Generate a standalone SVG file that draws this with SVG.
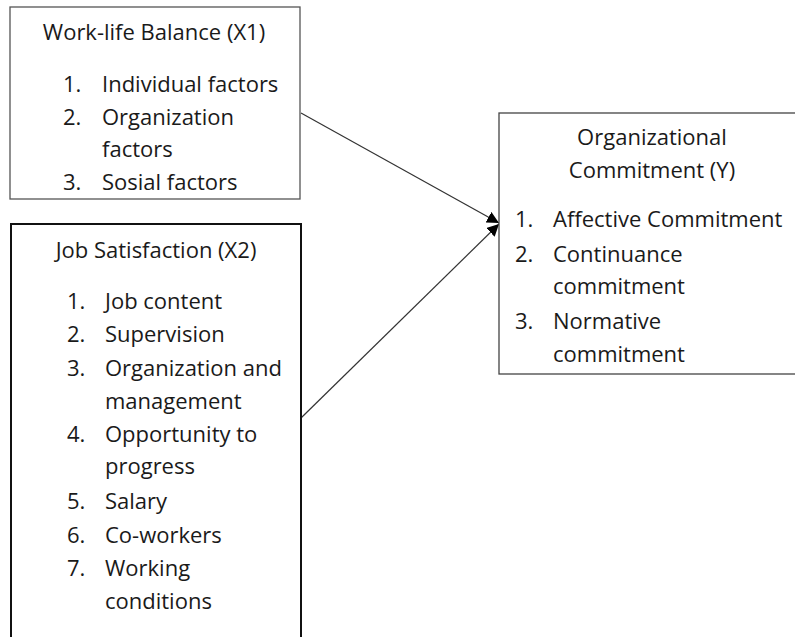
<svg xmlns="http://www.w3.org/2000/svg" width="795" height="637" viewBox="0 0 795 637">
<style>
text{font-family:"Open Sans","Noto Sans","Liberation Sans",sans-serif;font-size:22px;fill:#1a1a1a}
.c{text-anchor:middle}
.box1{fill:#fff;stroke:#555;stroke-width:1.3}
.box2{fill:#fff;stroke:#111;stroke-width:2}
.box3{fill:#fff;stroke:#444;stroke-width:1.3}
.edge{stroke:#333;stroke-width:1.2;fill:none;marker-end:url(#ah)}
</style>
<defs>
<marker id="ah" viewBox="0 0 10 10" refX="10" refY="5" markerWidth="12" markerHeight="12" markerUnits="userSpaceOnUse" orient="auto">
<path d="M0,0 L10,5 L0,10 z" fill="#000"/>
</marker>
</defs>
<rect width="795" height="637" fill="#fff"/>
<g id="connectors">
<line class="edge" x1="301" y1="113" x2="499" y2="223"/>
<line class="edge" x1="301" y1="418" x2="499" y2="224"/>
</g>
<g id="x1">
<rect class="box1" x="10" y="7" width="290" height="192"/>
<text class="c" x="154" y="40">Work-life Balance (X1)</text>
<text x="63" y="92">1.</text><text x="102" y="92">Individual factors</text>
<text x="63" y="125">2.</text><text x="102" y="125">Organization</text>
<text x="102" y="157">factors</text>
<text x="63" y="190">3.</text><text x="102" y="190">Sosial factors</text>
</g>
<g id="x2">
<rect class="box2" x="11" y="224" width="290" height="430"/>
<text class="c" x="156" y="258">Job Satisfaction (X2)</text>
<text x="67" y="309">1.</text><text x="105" y="309">Job content</text>
<text x="67" y="342">2.</text><text x="105" y="342">Supervision</text>
<text x="67" y="376">3.</text><text x="105" y="376">Organization and</text>
<text x="105" y="409">management</text>
<text x="67" y="442">4.</text><text x="105" y="442">Opportunity to</text>
<text x="105" y="474">progress</text>
<text x="67" y="509">5.</text><text x="105" y="509">Salary</text>
<text x="67" y="543">6.</text><text x="105" y="543">Co-workers</text>
<text x="67" y="576">7.</text><text x="105" y="576">Working</text>
<text x="105" y="609">conditions</text>
</g>
<g id="y">
<rect class="box3" x="499" y="113" width="300" height="261"/>
<text class="c" x="652" y="145">Organizational</text>
<text class="c" x="652" y="178">Commitment (Y)</text>
<text x="515" y="227">1.</text><text x="553" y="227">Affective Commitment</text>
<text x="515" y="262">2.</text><text x="553" y="262">Continuance</text>
<text x="553" y="294">commitment</text>
<text x="515" y="329">3.</text><text x="553" y="329">Normative</text>
<text x="553" y="362">commitment</text>
</g>
</svg>
